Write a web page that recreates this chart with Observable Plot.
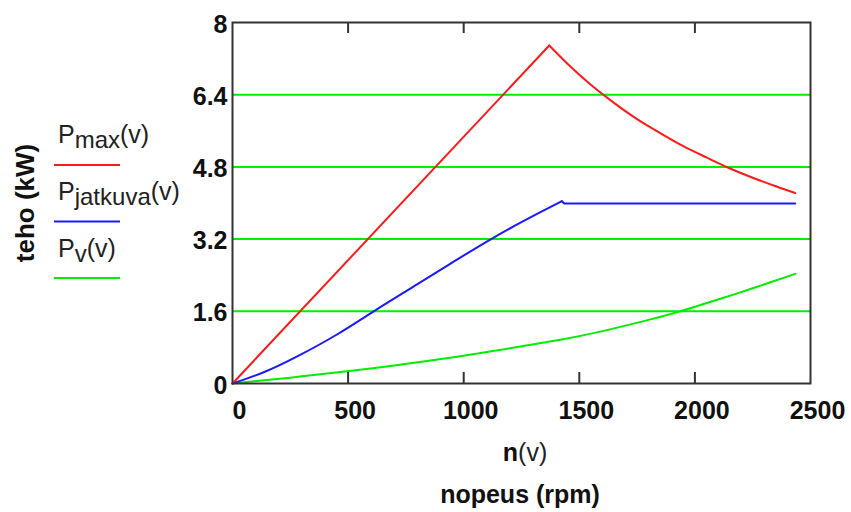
<!DOCTYPE html>
<html><head><meta charset="utf-8">
<script src="https://cdn.jsdelivr.net/npm/d3@7"></script>
<script src="https://cdn.jsdelivr.net/npm/@observablehq/plot@0.6"></script>
<style>body{margin:0;background:#fff;} #chart{width:851px;height:512px;}</style>
</head><body><div id="chart"></div>
<script>
const xTicks = [0, 500, 1000, 1500, 2000, 2500];
const yTicks = [0, 1.6, 3.2, 4.8, 6.4, 8];
const gridY = [1.6, 3.2, 4.8, 6.4];
const innerTicks = [500, 1000, 1500, 2000];

// P_max(v): rising part and falling part
const nMaxUp = [0, 1370];
const pMaxUp = [0, 7.49];
const nMaxDown = [1370, 1450, 1550, 1650, 1750, 1850, 1950, 2050, 2150, 2250, 2350, 2434];
const pMaxDown = [7.49, 7.08, 6.62, 6.22, 5.86, 5.55, 5.26, 5.01, 4.77, 4.56, 4.37, 4.22];
// P_jatkuva(v): rising part and flat part
const nJatUp = [0, 140, 280, 450, 611, 800, 960, 1115, 1270, 1425];
const pJatUp = [0, 0.26, 0.6, 1.08, 1.6, 2.2, 2.71, 3.19, 3.63, 4.04];
const nJatFlat = [1425, 1435, 2434];
const pJatFlat = [4.04, 3.99, 3.99];
// P_v(v)
const nV = [0, 250, 496, 700, 956, 1200, 1418, 1591, 1800, 1937, 2100, 2250, 2434];
const pV = [0, 0.13, 0.27, 0.40, 0.58, 0.78, 0.97, 1.15, 1.41, 1.6, 1.86, 2.11, 2.43];

const legendSubs = ["max", "jatkuva", "v"];
const colors = ["#ff1a1a", "#1a1aff", "#00ee00"];

const toRows = (ns, ps) => ns.map((n, i) => ({n, p: ps[i]}));

const font = "'Liberation Sans', Arial, sans-serif";
const chart = Plot.plot({
  width: 851, height: 512,
  marginLeft: 232, marginRight: 41, marginTop: 22, marginBottom: 129,
  style: {fontFamily: font, background: "#fff", overflow: "visible"},
  x: {domain: [0, 2500], label: null},
  y: {domain: [0, 8], label: null},
  marks: [
    Plot.ruleY(gridY, {stroke: colors[2], strokeWidth: 2}),
    Plot.line(toRows(nV, pV), {x: "n", y: "p", stroke: colors[2], strokeWidth: 2, curve: "natural"}),
    Plot.line(toRows(nJatUp, pJatUp), {x: "n", y: "p", stroke: colors[1], strokeWidth: 2, curve: "natural"}),
    Plot.line(toRows(nJatFlat, pJatFlat), {x: "n", y: "p", stroke: colors[1], strokeWidth: 2}),
    Plot.line(toRows(nMaxUp, pMaxUp), {x: "n", y: "p", stroke: colors[0], strokeWidth: 2}),
    Plot.line(toRows(nMaxDown, pMaxDown), {x: "n", y: "p", stroke: colors[0], strokeWidth: 2, curve: "natural"}),
    Plot.frame({stroke: "#333", strokeWidth: 2}),
    Plot.ruleX(innerTicks, {stroke: "#333", strokeWidth: 2, insetTop: 350}),
    Plot.ruleX(innerTicks, {stroke: "#333", strokeWidth: 2, insetBottom: 350}),
    Plot.axisX(xTicks, {tickSize: 0, tickPadding: 18, dx: 7, fontSize: 25, fontWeight: "bold", fill: "#111", label: null, tickFormat: d => String(d)}),
    Plot.axisY(yTicks, {tickSize: 0, tickPadding: 5, dy: 2, fontSize: 25, fontWeight: "bold", fill: "#111", label: null, tickFormat: d => String(d)})
  ]
});
document.getElementById("chart").appendChild(chart);

const svg = d3.select(chart);
const g = svg.append("g").attr("font-family", font).attr("fill", "#222").attr("text-anchor", "start");
legendSubs.forEach((sub, i) => {
  const t = g.append("text").attr("x", 58).attr("y", 143 + 57 * i).attr("font-size", 25);
  t.append("tspan").text("P");
  t.append("tspan").attr("dy", 5).attr("font-size", 24).text(sub);
  t.append("tspan").attr("dy", -5).text("(v)");
  g.append("line").attr("x1", 54).attr("x2", 120)
    .attr("y1", 165 + 56.5 * i).attr("y2", 165 + 56.5 * i)
    .attr("stroke", colors[i]).attr("stroke-width", 2);
});
g.append("text").attr("transform", "translate(34,203) rotate(-90)")
  .attr("text-anchor", "middle").attr("font-size", 26).attr("font-weight", "bold").attr("fill", "#111")
  .text("teho (kW)");
const nt = g.append("text").attr("x", 525).attr("y", 461).attr("text-anchor", "middle").attr("font-size", 25);
nt.append("tspan").attr("font-weight", "bold").attr("fill", "#111").text("n");
nt.append("tspan").text("(v)");
g.append("text").attr("x", 520).attr("y", 503).attr("text-anchor", "middle")
  .attr("font-size", 25).attr("font-weight", "bold").attr("fill", "#111").text("nopeus (rpm)");
</script>
</body></html>
